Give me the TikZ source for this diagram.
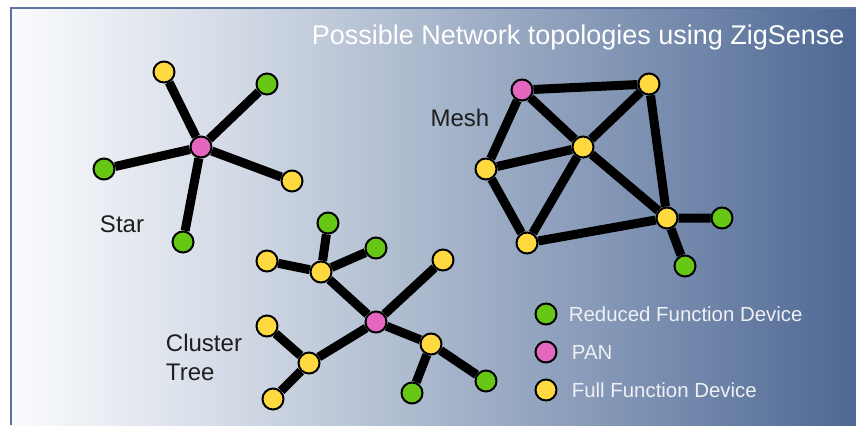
\documentclass[tikz,border=0pt]{standalone}
\usepackage{fontspec}
\setmainfont{Liberation Sans}
\usepackage{xcolor}
\usetikzlibrary{positioning,backgrounds}

\definecolor{rfdgreen}{HTML}{66C814}
\definecolor{panpink}{HTML}{E466BE}
\definecolor{ffdyellow}{HTML}{FFD940}
\definecolor{framecol}{HTML}{5B74A0}
\definecolor{labelcol}{HTML}{1E1E1E}
\definecolor{keycol}{HTML}{EEF0F4}
\definecolor{bgA}{HTML}{FAFBFD}
\definecolor{bgB}{HTML}{D5DCE7}
\definecolor{bgC}{HTML}{A9B7CC}
\definecolor{bgD}{HTML}{7C90B1}
\definecolor{bgE}{HTML}{4E6893}
\pgfdeclarehorizontalshading{bgshade}{100bp}{color(0bp)=(bgA); color(25bp)=(bgA);
  color(37.5bp)=(bgB); color(50bp)=(bgC); color(62.5bp)=(bgD); color(75bp)=(bgE); color(100bp)=(bgE)}

\begin{document}
\begin{tikzpicture}[x=0.5pt, y=-0.5pt,
    dev/.style={circle, draw=black, line width=1pt, minimum size=10.5pt, inner sep=0pt},
    rfd/.style={dev, fill=rfdgreen},
    pan/.style={dev, fill=panpink},
    ffd/.style={dev, fill=ffdyellow},
    link/.style={line width=4.5pt, black},
    lbl/.style={text=labelcol, font=\fontsize{12}{14.5}\selectfont},
    key/.style={text=keycol, font=\fontsize{10.2}{12}\selectfont, inner sep=0pt}]

  \useasboundingbox (0,0) rectangle (856,425);

  % Background panel
  \begin{scope}[on background layer]
    \shade[shading=bgshade] (11,8) rectangle (856,425);
    \draw[framecol, line width=1.25pt] (11,425) -- (11,8) -- (856,8);
  \end{scope}

  % Title
  \node[anchor=base east, text=white, font=\fontsize{13.5}{16}\selectfont, inner sep=0pt] (title) at (845,44) {Possible Network topologies using ZigSense};

  % Star
  \node[pan] (sp) at (201,147) {};
  \node[ffd] (s1) at (164,72) {};
  \node[rfd] (s2) at (267,84) {};
  \node[rfd] (s3) at (104,169) {};
  \node[ffd] (s4) at (292,181) {};
  \node[rfd] (s5) at (183,242) {};
  \node[lbl] (star) at (122,224) {Star};

  % Mesh
  \node[pan] (mp) at (522,90) {};
  \node[ffd] (m1) at (649,84) {};
  \node[ffd] (m2) at (583,147) {};
  \node[ffd] (m3) at (486,169) {};
  \node[ffd] (m4) at (667,218) {};
  \node[ffd] (m5) at (527,243) {};
  \node[rfd] (m6) at (722,218) {};
  \node[rfd] (m7) at (685,266) {};
  \node[lbl] (mesh) at (460,118) {Mesh};

  % Cluster tree
  \node[pan] (tp) at (376,322) {};
  \node[ffd] (t1) at (321,272) {};
  \node[rfd] (t2) at (328,223) {};
  \node[rfd] (t3) at (376,248) {};
  \node[ffd] (t4) at (267,261) {};
  \node[ffd] (t5) at (443,260) {};
  \node[ffd] (t6) at (309,363) {};
  \node[ffd] (t7) at (267,326) {};
  \node[ffd] (t8) at (273,399) {};
  \node[ffd] (t9) at (431,344) {};
  \node[rfd] (t10) at (412,393) {};
  \node[rfd] (t11) at (486,381) {};
  \node[lbl, align=left] (tree) at (204,357) {Cluster\\Tree};

  % Links
  \begin{scope}[on background layer]
    \draw[link] (sp) -- (s1) (sp) -- (s2) (sp) -- (s3) (sp) -- (s4) (sp) -- (s5);
    \draw[link] (mp) -- (m1) (mp) -- (m2) (mp) -- (m3) (m1) -- (m2) (m1) -- (m4)
      (m2) -- (m3) (m2) -- (m5) (m2) -- (m4) (m3) -- (m5) (m5) -- (m4)
      (m4) -- (m6) (m4) -- (m7);
    \draw[link] (tp) -- (t1) (t1) -- (t2) (t1) -- (t3) (t1) -- (t4) (tp) -- (t5)
      (tp) -- (t6) (t6) -- (t7) (t6) -- (t8) (tp) -- (t9) (t9) -- (t10) (t9) -- (t11);
  \end{scope}

  % Legend
  \node[rfd] (k1) at (546,314) {};
  \node[pan] (k2) at (546,352) {};
  \node[ffd] (k3) at (546,390) {};
  \node[key, right=5.5pt of k1] (k1t) {Reduced Function Device};
  \node[key, right=7pt of k2] (k2t) {PAN};
  \node[key, right=7pt of k3] (k3t) {Full Function Device};

\end{tikzpicture}
\end{document}
